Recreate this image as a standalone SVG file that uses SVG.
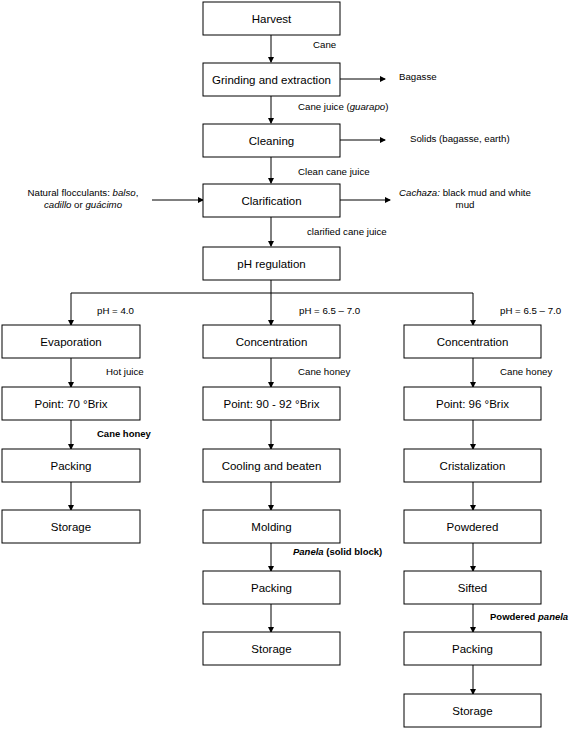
<svg xmlns="http://www.w3.org/2000/svg" width="579" height="729" viewBox="0 0 579 729">
<defs>
<marker id="ah" markerWidth="6" markerHeight="6" refX="5" refY="3" orient="auto" markerUnits="userSpaceOnUse">
<path d="M0,0 L6,3 L0,6 Z" fill="#000"/>
</marker>
<style>
.box{fill:#fff;stroke:#000;stroke-width:1}
.bt{font-family:"Liberation Sans",Arial,sans-serif;font-size:11.5px;text-anchor:middle;dominant-baseline:central;fill:#000}
.lb{font-family:"Liberation Sans",Arial,sans-serif;font-size:9.7px;fill:#000}
.b{font-weight:bold;font-size:9.5px}
.i{font-style:italic}
.c{stroke:#000;stroke-width:1;fill:none}
.a{marker-end:url(#ah)}
</style>
</defs>
<rect width="579" height="729" fill="#fff"/>
<g id="connectors">
<line class="c a" x1="271" y1="35" x2="271" y2="62"/>
<line class="c a" x1="340" y1="79" x2="385" y2="79"/>
<line class="c a" x1="271" y1="96" x2="271" y2="123"/>
<line class="c a" x1="340" y1="140" x2="385" y2="140"/>
<line class="c a" x1="271" y1="157" x2="271" y2="183"/>
<line class="c a" x1="152" y1="200" x2="203" y2="200"/>
<line class="c a" x1="340" y1="200" x2="390" y2="200"/>
<line class="c a" x1="271" y1="217" x2="271" y2="246"/>
<polyline class="c" points="271,280 271,293"/>
<polyline class="c" points="71,293 473,293"/>
<line class="c a" x1="71" y1="293" x2="71" y2="325"/>
<line class="c a" x1="271" y1="293" x2="271" y2="325"/>
<line class="c a" x1="473" y1="293" x2="473" y2="325"/>
<line class="c a" x1="71" y1="358" x2="71" y2="387"/>
<line class="c a" x1="271" y1="358" x2="271" y2="387"/>
<line class="c a" x1="473" y1="358" x2="473" y2="387"/>
<line class="c a" x1="71" y1="420" x2="71" y2="449"/>
<line class="c a" x1="271" y1="420" x2="271" y2="449"/>
<line class="c a" x1="473" y1="420" x2="473" y2="449"/>
<line class="c a" x1="71" y1="482" x2="71" y2="510"/>
<line class="c a" x1="271" y1="482" x2="271" y2="510"/>
<line class="c a" x1="473" y1="482" x2="473" y2="510"/>
<line class="c a" x1="271" y1="543" x2="271" y2="571"/>
<line class="c a" x1="473" y1="543" x2="473" y2="571"/>
<line class="c a" x1="271" y1="604" x2="271" y2="632"/>
<line class="c a" x1="473" y1="604" x2="473" y2="632"/>
<line class="c a" x1="473" y1="665" x2="473" y2="694"/>
</g>
<g id="labels">
<text class="lb" x="313" y="48">Cane</text>
<text class="lb" x="399" y="80">Bagasse</text>
<text class="lb" x="298" y="110">Cane juice (<tspan class="i">guarapo</tspan>)</text>
<text class="lb" x="410" y="142">Solids (bagasse, earth)</text>
<text class="lb" x="298" y="175">Clean cane juice</text>
<text class="lb" x="83" y="196" text-anchor="middle">Natural flocculants: <tspan class="i">balso</tspan>,</text>
<text class="lb" x="83" y="208" text-anchor="middle"><tspan class="i">cadillo</tspan> or <tspan class="i">guácimo</tspan></text>
<text class="lb" x="399" y="196"><tspan class="i">Cachaza:</tspan> black mud and white</text>
<text class="lb" x="465" y="208" text-anchor="middle">mud</text>
<text class="lb" x="307" y="235">clarified cane juice</text>
<text class="lb" x="97" y="314">pH = 4.0</text>
<text class="lb" x="299" y="314">pH = 6.5 – 7.0</text>
<text class="lb" x="500" y="314">pH = 6.5 – 7.0</text>
<text class="lb" x="106" y="375">Hot juice</text>
<text class="lb" x="298" y="375">Cane honey</text>
<text class="lb" x="500" y="375">Cane honey</text>
<text class="lb b" x="97" y="437">Cane honey</text>
<text class="lb b" x="293" y="555"><tspan class="i">Panela</tspan> (solid block)</text>
<text class="lb b" x="490" y="620">Powdered <tspan class="i">panela</tspan></text>
</g>
<g id="n-harvest"><rect class="box" x="203" y="2" width="137" height="33"/><text class="bt" x="271.5" y="18.5">Harvest</text></g>
<g id="n-grinding"><rect class="box" x="203" y="63" width="137" height="33"/><text class="bt" x="271.5" y="79.5">Grinding and extraction</text></g>
<g id="n-cleaning"><rect class="box" x="203" y="124" width="137" height="33"/><text class="bt" x="271.5" y="140.5">Cleaning</text></g>
<g id="n-clarification"><rect class="box" x="203" y="184" width="137" height="33"/><text class="bt" x="271.5" y="200.5">Clarification</text></g>
<g id="n-ph"><rect class="box" x="203" y="247" width="137" height="33"/><text class="bt" x="271.5" y="263.5">pH regulation</text></g>
<g id="n-evaporation"><rect class="box" x="2" y="325" width="138" height="33"/><text class="bt" x="71" y="341.5">Evaporation</text></g>
<g id="n-conc1"><rect class="box" x="203" y="325" width="137" height="33"/><text class="bt" x="271.5" y="341.5">Concentration</text></g>
<g id="n-conc2"><rect class="box" x="404" y="325" width="137" height="33"/><text class="bt" x="472.5" y="341.5">Concentration</text></g>
<g id="n-point70"><rect class="box" x="2" y="387" width="138" height="33"/><text class="bt" x="71" y="403.5">Point: 70 °Brix</text></g>
<g id="n-point90"><rect class="box" x="203" y="387" width="137" height="33"/><text class="bt" x="271.5" y="403.5">Point: 90 - 92 °Brix</text></g>
<g id="n-point96"><rect class="box" x="404" y="387" width="137" height="33"/><text class="bt" x="472.5" y="403.5">Point: 96 °Brix</text></g>
<g id="n-packing1"><rect class="box" x="2" y="449" width="138" height="33"/><text class="bt" x="71" y="465.5">Packing</text></g>
<g id="n-cooling"><rect class="box" x="203" y="449" width="137" height="33"/><text class="bt" x="271.5" y="465.5">Cooling and beaten</text></g>
<g id="n-cristal"><rect class="box" x="404" y="449" width="137" height="33"/><text class="bt" x="472.5" y="465.5">Cristalization</text></g>
<g id="n-storage1"><rect class="box" x="2" y="510" width="138" height="33"/><text class="bt" x="71" y="526.5">Storage</text></g>
<g id="n-molding"><rect class="box" x="203" y="510" width="137" height="33"/><text class="bt" x="271.5" y="526.5">Molding</text></g>
<g id="n-powdered"><rect class="box" x="404" y="510" width="137" height="33"/><text class="bt" x="472.5" y="526.5">Powdered</text></g>
<g id="n-packing2"><rect class="box" x="203" y="571" width="137" height="33"/><text class="bt" x="271.5" y="587.5">Packing</text></g>
<g id="n-sifted"><rect class="box" x="404" y="571" width="137" height="33"/><text class="bt" x="472.5" y="587.5">Sifted</text></g>
<g id="n-storage2"><rect class="box" x="203" y="632" width="137" height="33"/><text class="bt" x="271.5" y="648.5">Storage</text></g>
<g id="n-packing3"><rect class="box" x="404" y="632" width="137" height="33"/><text class="bt" x="472.5" y="648.5">Packing</text></g>
<g id="n-storage3"><rect class="box" x="404" y="694" width="137" height="33"/><text class="bt" x="472.5" y="710.5">Storage</text></g>
</svg>
